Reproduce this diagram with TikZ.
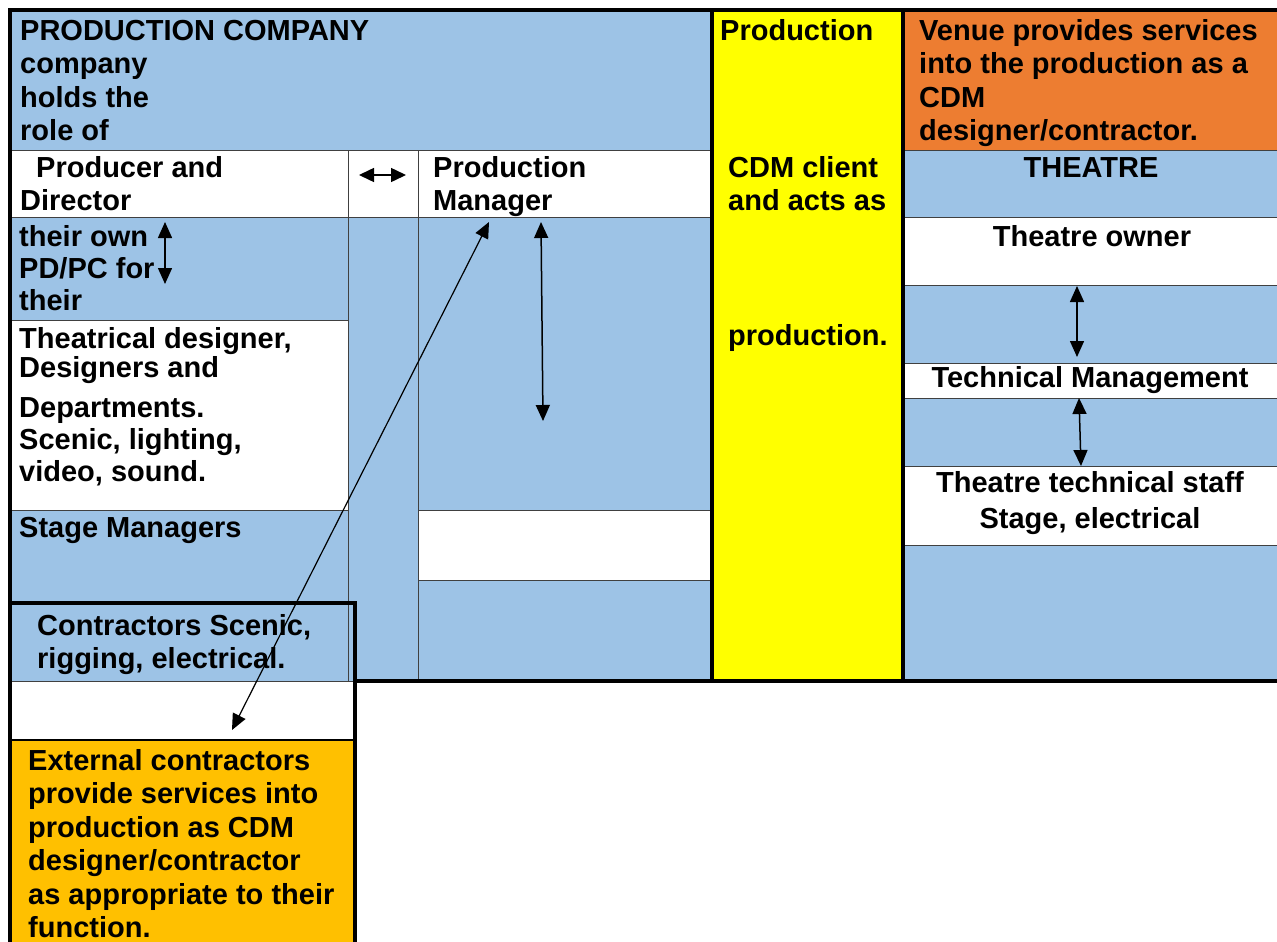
\documentclass[tikz,border=0pt]{standalone}
\usepackage{fontspec}
\setmainfont{Liberation Sans}
\usetikzlibrary{arrows.meta}
\definecolor{cblue}{HTML}{9DC3E6}
\definecolor{corange}{HTML}{ED7D31}
\definecolor{cgold}{HTML}{FFC000}
\definecolor{cyel}{HTML}{FFFF00}
\definecolor{cgrid}{HTML}{404040}
\begin{document}
\begin{tikzpicture}[x=1pt,y=-1pt,
  txt/.style={anchor=base west, inner sep=0pt, font=\fontsize{29}{33}\selectfont\bfseries},
  ctxt/.style={anchor=base, inner sep=0pt, font=\fontsize{29}{33}\selectfont\bfseries},
  gridline/.style={draw=cgrid, line width=1pt},
  heavy/.style={draw=black, line width=3.5pt},
  dbl/.style={{Triangle[length=16pt,width=14pt]}-{Triangle[length=16pt,width=14pt]}, line width=1.5pt},
  small dbl/.style={{Triangle[length=15pt,width=14pt]}-{Triangle[length=15pt,width=14pt]}, line width=1.5pt}
]
\useasboundingbox (0,0) rectangle (1277,942);
\clip (0,0) rectangle (1277,942);
% fills
\fill[cblue] (10,10) rectangle (712,150);
\fill[white] (10,150) rectangle (712,217);
\fill[cblue] (10,217) rectangle (348,320);
\fill[white] (10,320) rectangle (348,510);
\fill[cblue] (10,510) rectangle (348,681);
\fill[cblue] (348,217) rectangle (418,681);
\fill[cblue] (418,217) rectangle (712,510);
\fill[white] (418,510) rectangle (712,580);
\fill[cblue] (418,580) rectangle (712,681);
\fill[cyel] (712,10) rectangle (903,681);
\fill[corange] (903,10) rectangle (1280,150);
\fill[cblue] (903,150) rectangle (1280,217);
\fill[white] (903,217) rectangle (1280,285);
\fill[cblue] (903,285) rectangle (1280,363);
\fill[white] (903,363) rectangle (1280,398);
\fill[cblue] (903,398) rectangle (1280,466);
\fill[white] (903,466) rectangle (1280,545);
\fill[cblue] (903,545) rectangle (1280,681);
\fill[white] (10,681) rectangle (355,740);
\fill[cgold] (10,740) rectangle (355,950);
% thin grid lines
\draw[gridline] (10,150) -- (712,150) (903,150) -- (1280,150);
\draw[gridline] (10,217) -- (712,217) (903,217) -- (1280,217);
\draw[gridline] (10,320) -- (348,320);
\draw[gridline] (10,510) -- (348,510) (418,510) -- (712,510);
\draw[gridline] (418,580) -- (712,580);
\foreach \yy in {285,363,398,466,545} {\draw[gridline] (903,\yy) -- (1280,\yy);}
\draw[gridline] (348,150) -- (348,681) (418,150) -- (418,681);
\draw[gridline] (10,681) -- (355,681);
\draw[draw=black, line width=1.5pt] (10,740) -- (355,740);
% heavy borders
\draw[heavy] (8,10) -- (1280,10);
\draw[heavy] (10,10) -- (10,950);
\draw[heavy] (712,10) -- (712,682);
\draw[heavy] (903,10) -- (903,682);
\draw[heavy] (354,681) -- (1280,681);
\draw[heavy] (10,603) rectangle (355,960);
% texts: production company
\node[txt] (pc1) at (20,41) {PRODUCTION COMPANY};
\node[txt] (pc2) at (20,74) {company};
\node[txt] (pc3) at (20,107) {holds the};
\node[txt] (pc4) at (20,140) {role of};
\node[txt] (pd1) at (36,177) {Producer and};
\node[txt] (pd2) at (20,210) {Director};
\node[txt] (pm1) at (433,177) {Production};
\node[txt] (pm2) at (433,210) {Manager};
\node[txt] (own1) at (19,246) {their own};
\node[txt] (own2) at (19,278) {PD/PC for};
\node[txt] (own3) at (19,310) {their};
\node[txt] (td1) at (19,348) {Theatrical designer,};
\node[txt] (td2) at (19,377) {Designers and};
\node[txt] (td3) at (19,417) {Departments.};
\node[txt] (td4) at (19,449) {Scenic, lighting,};
\node[txt] (td5) at (19,481) {video, sound.};
\node[txt] (sm) at (19,537) {Stage Managers};
\node[txt] (co1) at (37,635) {Contractors Scenic,};
\node[txt] (co2) at (37,668) {rigging, electrical.};
\node[txt] (ex1) at (28,770) {External contractors};
\node[txt] (ex2) at (28,803) {provide services into};
\node[txt] (ex3) at (28,837) {production as CDM};
\node[txt] (ex4) at (28,870) {designer/contractor};
\node[txt] (ex5) at (28,904) {as appropriate to their};
\node[txt] (ex6) at (28,937) {function.};
% yellow column
\node[txt] (y1) at (720,41) {Production};
\node[txt] (y2) at (728,177) {CDM client};
\node[txt] (y3) at (728,210) {and acts as};
\node[txt] (y4) at (728,345) {production.};
% right column
\node[txt] (v1) at (919,41) {Venue provides services};
\node[txt] (v2) at (919,74) {into the production as a};
\node[txt] (v3) at (919,107) {CDM};
\node[txt] (v4) at (919,140) {designer/contractor.};
\node[ctxt] (th) at (1091,177) {THEATRE};
\node[ctxt] (to) at (1092,246) {Theatre owner};
\node[ctxt] (tm) at (1090,387) {Technical Management};
\node[ctxt] (ts1) at (1090,492) {Theatre technical staff};
\node[ctxt] (ts2) at (1090,528) {Stage, electrical};
% arrow end points
\coordinate (hA) at (359,175);
\coordinate (hB) at (406,175);
\coordinate (lA) at (165,222);
\coordinate (lB) at (165,284);
\coordinate (pmA) at (541,222);
\coordinate (pmB) at (543,421);
\coordinate (dA) at (489,222);
\coordinate (dB) at (232,730);
\coordinate (r1A) at (1077,286);
\coordinate (r1B) at (1077,357);
\coordinate (r2A) at (1079,398);
\coordinate (r2B) at (1081,466);
\draw[small dbl] (hA) -- (hB);
\draw[dbl] (lA) -- (lB);
\draw[dbl] (pmA) -- (pmB);
\draw[dbl, line width=1.2pt] (dA) -- (dB);
\draw[dbl] (r1A) -- (r1B);
\draw[dbl] (r2A) -- (r2B);
\end{tikzpicture}
\end{document}
